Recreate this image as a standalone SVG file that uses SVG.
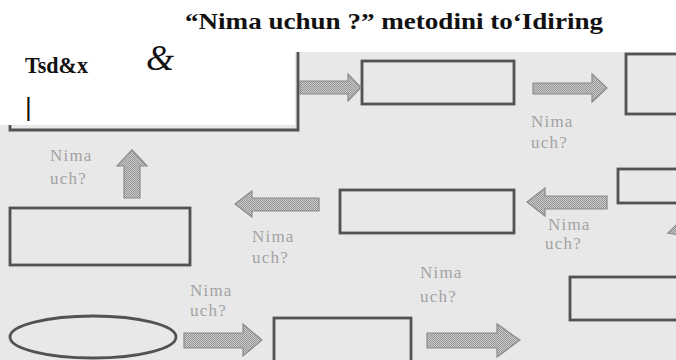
<svg xmlns="http://www.w3.org/2000/svg" width="676" height="360" viewBox="0 0 676 360">
  <style>
    .title { font-family: "Liberation Serif", serif; font-weight: bold; fill: #111; }
    .box { fill: none; stroke: #525252; stroke-width: 2.8; }
    .arrow { fill: url(#dots); stroke: #8a8a8a; stroke-width: 1.2; stroke-linejoin: miter; }
    .lbl { font-family: "Liberation Serif", serif; font-size: 17px; fill: #a3a3a3; letter-spacing: 1.2px; }
  </style>
  <defs>
    <!-- fine checker used to fill the block arrows -->
    <pattern id="dots" width="2" height="2" patternUnits="userSpaceOnUse">
      <rect width="2" height="2" fill="#cbcbcb"/>
      <rect width="1" height="1" fill="#959595"/>
      <rect x="1" y="1" width="1" height="1" fill="#959595"/>
    </pattern>
  </defs>

  <!-- page -->
  <rect width="676" height="360" fill="#ffffff"/>
  <path d="M295,52 H676 V360 H0 V125 H295 Z" fill="#e8e8e8"/>

  <!-- heading -->
  <text class="title" x="185" y="29" font-size="24" textLength="418" lengthAdjust="spacingAndGlyphs">“Nima uchun ?” metodini to‘Idiring</text>
  <text class="title" x="25" y="73" font-size="24" textLength="63" lengthAdjust="spacingAndGlyphs">Tsd&amp;x</text>
  <text x="146" y="70" font-family="Liberation Serif, serif" font-style="italic" font-size="36" fill="#111">&amp;</text>
  <text x="25" y="116" font-family="Liberation Sans, sans-serif" font-size="26" fill="#111">|</text>

  <!-- nodes -->
  <g id="start-box"><path class="box" d="M10,125 V130 H298 V52"/></g>
  <g id="box-1"><rect class="box" x="362" y="61" width="152" height="43"/></g>
  <g id="box-2"><rect class="box" x="626" y="54" width="60" height="60"/></g>
  <g id="box-3"><rect class="box" x="618" y="169" width="70" height="34"/></g>
  <g id="box-4"><rect class="box" x="340" y="190" width="174" height="43"/></g>
  <g id="box-5"><rect class="box" x="10" y="208" width="180" height="57"/></g>
  <g id="box-6"><rect class="box" x="570" y="277" width="120" height="43"/></g>
  <g id="box-7"><rect class="box" x="274" y="318" width="137" height="50"/></g>
  <g id="problem"><ellipse class="box" cx="93" cy="337" rx="83" ry="21"/></g>

  <!-- connectors -->
  <g id="connectors">
    <polygon class="arrow" points="300,81 348,81 348,74 361,87.5 348,101 348,94 300,94"/>
    <polygon class="arrow" points="533,83 592,83 592,74 607,88 592,102 592,94 533,94"/>
    <polygon class="arrow" points="607,196 545,196 545,188 527,202 545,216 545,209 607,209"/>
    <polygon class="arrow" points="319,198 252,198 252,191 235,204 252,217 252,211 319,211"/>
    <polygon class="arrow" points="124,198 124,166 117,166 132,150 147,166 140,166 140,198"/>
    <polygon class="arrow" points="184,333 243,333 243,324 262,340 243,356 243,348 184,348"/>
    <polygon class="arrow" points="427,333 497,333 497,324 520,340 497,357 497,348 427,348"/>
    <polygon class="arrow" points="668,233 680,221 684,236"/>
  </g>

  <!-- connector labels -->
  <g id="labels">
    <text class="lbl" x="50" y="161">Nima</text><text class="lbl" x="50" y="184">uch?</text>
    <text class="lbl" x="531" y="127">Nima</text><text class="lbl" x="531" y="148">uch?</text>
    <text class="lbl" x="548" y="230">Nima</text><text class="lbl" x="545" y="249">uch?</text>
    <text class="lbl" x="252" y="242">Nima</text><text class="lbl" x="252" y="263">uch?</text>
    <text class="lbl" x="190" y="296">Nima</text><text class="lbl" x="190" y="316">uch?</text>
    <text class="lbl" x="420" y="278">Nima</text><text class="lbl" x="420" y="302">uch?</text>
  </g>
</svg>
